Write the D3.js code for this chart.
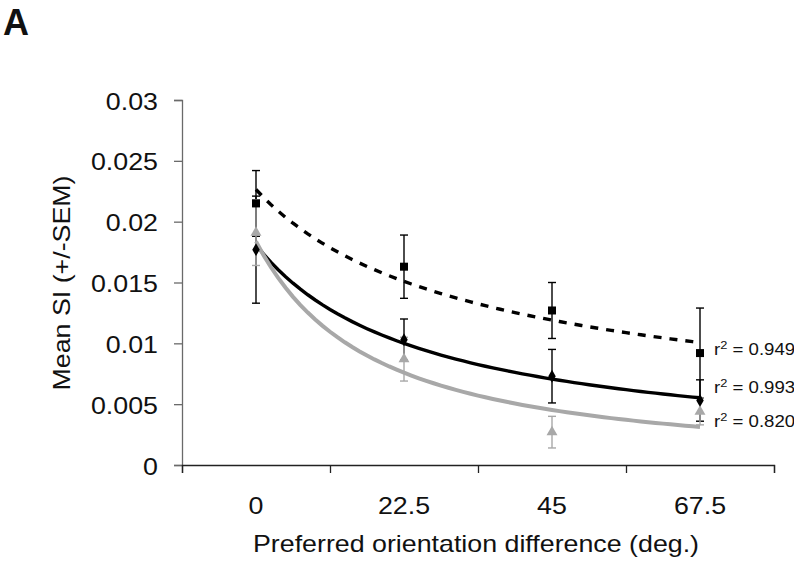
<!DOCTYPE html>
<html>
<head>
<meta charset="utf-8">
<script src="https://cdn.jsdelivr.net/npm/d3@7/dist/d3.min.js"></script>
<style>
  html, body { margin: 0; padding: 0; background: #fff; }
  svg { display: block; }
  text { font-family: "Liberation Sans", Arial, sans-serif; fill: #111; }
</style>
</head>
<body>
<svg id="chart" width="794" height="567"></svg>
<script>
// Orientation-difference categories (deg.)
const categories = ["0", "22.5", "45", "67.5"];

// Mean SI and SEM for the three groups
const squareMean   = [0.0215, 0.0163, 0.0127, 0.0092];
const squareSem    = [0.0027, 0.0026, 0.0023, 0.0037];
const diamondMean  = [0.0177, 0.0103, 0.0073, 0.0053];
const diamondSem   = [0.0044, 0.0017, 0.0022, 0.0017];
const triangleMean = [0.0191, 0.0087, 0.0027, 0.0044];
const triangleSem  = [0.0027, 0.0018, 0.0013, 0.0011];

// Goodness of fit reported for each trend line
const r2Labels = ["0.949", "0.993", "0.820"];

// Y-axis tick labels
const yTicks = [0, 0.005, 0.01, 0.015, 0.02, 0.025, 0.03];
const yTickLabels = ["0", "0.005", "0.01", "0.015", "0.02", "0.025", "0.03"];

const svg = d3.select("#chart");
const plotLeft = 182, plotRight = 774, plotTop = 100, plotBottom = 465;
const SX = 1.165; // horizontal stretch of the lettering

// Category index 1..4 placed at band centres
const x = d3.scaleLinear().domain([0.5, categories.length + 0.5]).range([plotLeft, plotRight]);
const y = d3.scaleLinear().domain([0, 0.03]).range([plotBottom, plotTop]);

function stretchedText(g, px, py, str, size, anchor) {
  return g.append("text")
    .attr("transform", `translate(${px},${py}) scale(${SX},1)`)
    .attr("text-anchor", anchor)
    .attr("font-size", size)
    .text(str);
}

// Panel letter
svg.append("text").attr("x", 3).attr("y", 35)
  .attr("font-size", 36).attr("font-weight", "bold").text("A");

// Y axis
const yAxis = svg.append("g").attr("transform", `translate(${plotLeft},0)`)
  .call(d3.axisLeft(y).tickValues(yTicks).tickSize(8).tickFormat(""));
yAxis.select(".domain").attr("stroke", "#6a6a6a").attr("stroke-width", 1.3);
yAxis.selectAll(".tick line").attr("stroke", "#6a6a6a").attr("stroke-width", 1.3);
yTicks.forEach((t, i) => {
  stretchedText(svg, 158, y(t) + 9.5, yTickLabels[i], 23, "end");
});

// X axis with ticks between categories
const xAxis = svg.append("g").attr("transform", `translate(0,${plotBottom})`)
  .call(d3.axisBottom(x).tickValues(d3.range(0.5, categories.length + 1, 1)).tickSize(8).tickFormat(""));
xAxis.select(".domain").attr("stroke", "#222").attr("stroke-width", 1.3);
xAxis.selectAll(".tick line").attr("stroke", "#222").attr("stroke-width", 1.3);
categories.forEach((c, i) => {
  stretchedText(svg, x(i + 1), 513.5, c, 23, "middle");
});

// Axis titles
stretchedText(svg, 476, 552, "Preferred orientation difference (deg.)", 23, "middle");
svg.append("text")
  .attr("transform", `translate(70,283) rotate(-90) scale(${SX},1)`)
  .attr("text-anchor", "middle").attr("font-size", 23)
  .text("Mean SI (+/-SEM)");

// Least-squares power fit y = a * x^b on log-log values (x = 1..n)
function powerFit(vals) {
  const lx = vals.map((v, i) => Math.log(i + 1));
  const ly = vals.map(v => Math.log(v));
  const mx = d3.mean(lx), my = d3.mean(ly);
  const b = d3.sum(lx, (v, i) => (v - mx) * (ly[i] - my)) / d3.sum(lx, v => (v - mx) * (v - mx));
  const a = Math.exp(my - b * mx);
  return t => a * Math.pow(t, b);
}

const series = [
  { mean: squareMean,   sem: squareSem,   color: "#000",    shape: d3.symbolSquare,   size: 64, dash: "8,8", width: 3.4 },
  { mean: diamondMean,  sem: diamondSem,  color: "#000",    shape: d3.symbolDiamond,  size: 48, dash: null,  width: 3.4 },
  { mean: triangleMean, sem: triangleSem, color: "#a8a8a8", shape: d3.symbolTriangle, size: 52, dash: null,  width: 4 }
];

const line = d3.line().x(d => x(d[0])).y(d => y(d[1])).curve(d3.curveLinear);

// Error bars
series.forEach(s => {
  const g = svg.append("g");
  s.mean.forEach((m, i) => {
    const cx = x(i + 1);
    const y1 = y(m + s.sem[i]), y2 = y(m - s.sem[i]);
    g.append("line").attr("x1", cx).attr("x2", cx).attr("y1", y1).attr("y2", y2)
      .attr("stroke", s.color).attr("stroke-width", 1.4);
    [y1, y2].forEach(yy => g.append("line")
      .attr("x1", cx - 4).attr("x2", cx + 4).attr("y1", yy).attr("y2", yy)
      .attr("stroke", s.color).attr("stroke-width", 1.4));
  });
});

// Trend lines
series.forEach(s => {
  const f = powerFit(s.mean);
  const pts = d3.range(1, s.mean.length + 0.001, 0.05).map(t => [t, f(t)]);
  svg.append("path").datum(pts).attr("d", line)
    .attr("fill", "none").attr("stroke", s.color).attr("stroke-width", s.width)
    .attr("stroke-dasharray", s.dash).attr("stroke-linecap", "butt");
});

// Markers
series.forEach(s => {
  svg.append("g").selectAll("path").data(s.mean).join("path")
    .attr("transform", (m, i) => `translate(${x(i + 1)},${y(m)})`)
    .attr("d", d3.symbol().type(s.shape).size(s.size))
    .attr("fill", s.color);
});

// r-squared annotations
const r2Y = [355, 393, 427];
r2Labels.forEach((v, i) => {
  const t = svg.append("text")
    .attr("transform", `translate(714,${r2Y[i]}) scale(${SX},1)`)
    .attr("font-size", 16);
  t.append("tspan").text("r");
  t.append("tspan").attr("dy", -6).attr("font-size", 11).text("2");
  t.append("tspan").attr("dy", 6).text(" = " + v);
});
</script>
</body>
</html>
